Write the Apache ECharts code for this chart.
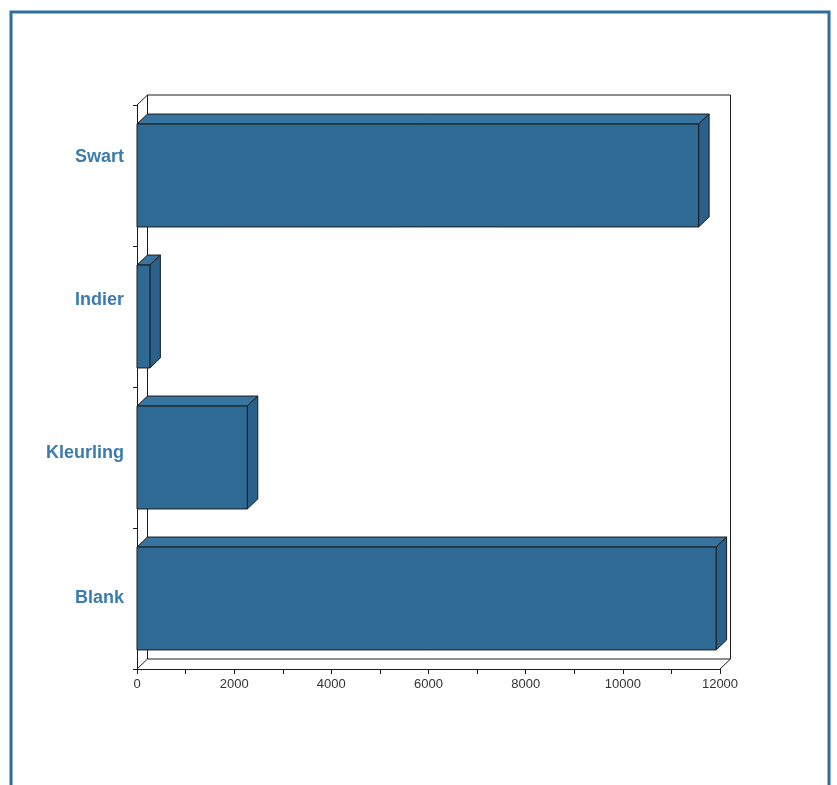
<!DOCTYPE html>
<html>
<head>
<meta charset="utf-8">
<style>
  html, body { margin: 0; padding: 0; background: #fff; }
  #chart { width: 837px; height: 785px; }
</style>
<script src="https://cdn.jsdelivr.net/npm/echarts@6/dist/echarts.min.js"></script>
</head>
<body>
<div id="chart"></div>
<script>
// categories bottom to top, as the axis draws them
var categories = ['Blank', 'Kleurling', 'Indier', 'Swart']
var values = [11920, 2270, 265, 11560]
// labels in the scan sit a bit above the band centre (px of spacer below)
var labelSpacer = [0, 8, 32, 36]
var xTicks = [0, 2000, 4000, 6000, 8000, 10000, 12000]

var DX = 10.5
var DY = -10
var barColor = '#2e6a93'
var edge = '#1c1c1c'

var chart = echarts.init(document.getElementById('chart'))

function renderBar (params, api) {
  var cat = api.value(1)
  var p0 = api.coord([0, cat])
  var p1 = api.coord([api.value(0), cat])
  var h = api.size([0, 1])[1] * 0.73
  var x0 = p0[0], x1 = p1[0]
  var yt = p0[1] - h / 2, yb = p0[1] + h / 2
  var st = { stroke: edge, lineWidth: 1 }
  return {
    type: 'group',
    children: [
      { type: 'polygon', shape: { points: [[x0, yt], [x0 + DX, yt + DY], [x1 + DX, yt + DY], [x1, yt]] },
        style: Object.assign({ fill: '#3775a0' }, st) },
      { type: 'polygon', shape: { points: [[x1, yt], [x1 + DX, yt + DY], [x1 + DX, yb + DY], [x1, yb]] },
        style: Object.assign({ fill: '#29618a' }, st) },
      { type: 'rect', shape: { x: x0, y: yt, width: x1 - x0, height: yb - yt },
        style: Object.assign({ fill: barColor }, st) }
    ]
  }
}

function renderWall (params, api) {
  if (params.dataIndex !== 0) return
  var c = params.coordSys
  var l = c.x, r = c.x + c.width, t = c.y, b = c.y + c.height
  var st = { stroke: edge, lineWidth: 1, fill: null }
  return {
    type: 'group',
    children: [
      { type: 'polyline', shape: { points: [[l + DX, b + DY], [l + DX, t + DY], [r + DX, t + DY], [r + DX, b + DY], [l + DX, b + DY]] }, style: st },
      { type: 'line', shape: { x1: l, y1: t, x2: l + DX, y2: t + DY }, style: st },
      { type: 'line', shape: { x1: l, y1: b, x2: l + DX, y2: b + DY }, style: st },
      { type: 'line', shape: { x1: r, y1: b, x2: r + DX, y2: b + DY }, style: st }
    ]
  }
}

var labelRich = {
  t: { color: '#3b7cad', fontSize: 18, fontWeight: 'bold', fontFamily: 'Liberation Sans', lineHeight: 22 }
}
labelSpacer.forEach(function (h, i) {
  labelRich['s' + i] = { height: h, lineHeight: h, fontSize: 1 }
})

chart.setOption({
  backgroundColor: '#fff',
  animation: false,
  graphic: [{
    type: 'rect',
    shape: { x: 11, y: 12, width: 818, height: 800 },
    style: { fill: null, stroke: '#2f6fa0', lineWidth: 3 }
  }],
  grid: { left: 137, right: 117, top: 105, bottom: 116 },
  xAxis: {
    type: 'value',
    min: 0,
    max: 12000,
    interval: 2000,
    axisLine: { show: true, lineStyle: { color: edge, width: 1 } },
    axisTick: { show: true, length: 5, lineStyle: { color: edge } },
    minorTick: { show: true, splitNumber: 2, length: 5, lineStyle: { color: edge } },
    splitLine: { show: false },
    axisLabel: {
      margin: 9,
      color: '#333',
      fontSize: 13,
      fontFamily: 'Liberation Sans',
      formatter: function (v) { return xTicks.indexOf(v) >= 0 ? String(v) : '' }
    }
  },
  yAxis: {
    type: 'category',
    data: categories,
    axisLine: { show: true, lineStyle: { color: edge, width: 1 } },
    axisTick: { show: true, length: 4, lineStyle: { color: edge } },
    axisLabel: {
      margin: 13,
      rich: labelRich,
      formatter: function (v, i) {
        return labelSpacer[i] > 0 ? '{t|' + v + '}\n{s' + i + '|}' : '{t|' + v + '}'
      }
    }
  },
  series: [
    {
      type: 'custom',
      name: 'wall',
      renderItem: renderWall,
      data: [[0, 0]],
      silent: true,
      z: 1
    },
    {
      type: 'custom',
      name: 'bars',
      renderItem: renderBar,
      encode: { x: 0, y: 1 },
      data: values.map(function (v, i) { return [v, i] }),
      z: 2
    }
  ]
})
</script>
</body>
</html>
